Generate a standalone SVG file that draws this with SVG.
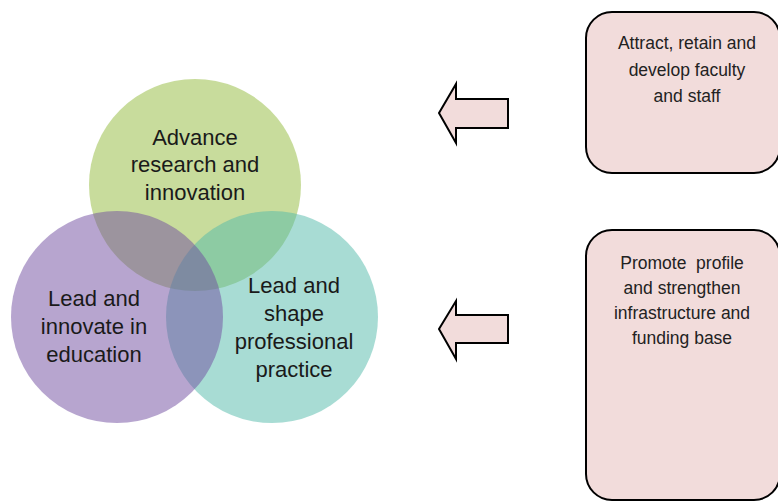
<svg xmlns="http://www.w3.org/2000/svg" width="778" height="502" viewBox="0 0 778 502">
<style>
.circ{stroke:none;}
.ct{font-family:"Liberation Sans",Arial,sans-serif;font-size:22px;fill:#1a1a1a;text-anchor:middle;}
.box{fill:#f2dcdb;stroke:#000;stroke-width:2;}
.bt{font-family:"Liberation Sans",Arial,sans-serif;font-size:17.5px;fill:#222;text-anchor:middle;white-space:pre;}
.arrow{fill:#f2dcdb;stroke:#000;stroke-width:2;stroke-linejoin:miter;}
</style>
<rect width="778" height="502" fill="#fff"/>
<g id="research">
<circle class="circ" cx="195" cy="185" r="106" fill="#91b939" fill-opacity="0.5"/>
</g>
<g id="practice">
<circle class="circ" cx="272" cy="317" r="106" fill="#51b9a9" fill-opacity="0.5"/>
</g>
<g id="education">
<circle class="circ" cx="117" cy="317" r="106" fill="#6f4b9f" fill-opacity="0.5"/>
</g>
<g id="labels">
<text class="ct" x="195" y="145">Advance</text>
<text class="ct" x="195" y="172">research and</text>
<text class="ct" x="195" y="200">innovation</text>
<text class="ct" x="94" y="306">Lead and</text>
<text class="ct" x="94" y="334">innovate in</text>
<text class="ct" x="94" y="362">education</text>
<text class="ct" x="294" y="293">Lead and</text>
<text class="ct" x="294" y="321">shape</text>
<text class="ct" x="294" y="349">professional</text>
<text class="ct" x="294" y="377">practice</text>
</g>
<g id="connectors">
<polygon class="arrow" points="508,99 456,99 456,84 439,113 456,143 456,128 508,128"/>
<polygon class="arrow" points="508,315 456,315 456,301 439,329 456,359 456,343 508,343"/>
</g>
<g id="faculty">
<rect class="box" x="586" y="12" width="194" height="161" rx="26" ry="26"/>
<text class="bt" x="687" y="49">Attract, retain and</text>
<text class="bt" x="687" y="76">develop faculty</text>
<text class="bt" x="687" y="102">and staff</text>
</g>
<g id="profile">
<rect class="box" x="586" y="230" width="194" height="270" rx="26" ry="26"/>
<text class="bt" x="682" y="269">Promote  profile</text>
<text class="bt" x="682" y="294">and strengthen</text>
<text class="bt" x="682" y="319">infrastructure and</text>
<text class="bt" x="682" y="344">funding base</text>
</g>
</svg>
